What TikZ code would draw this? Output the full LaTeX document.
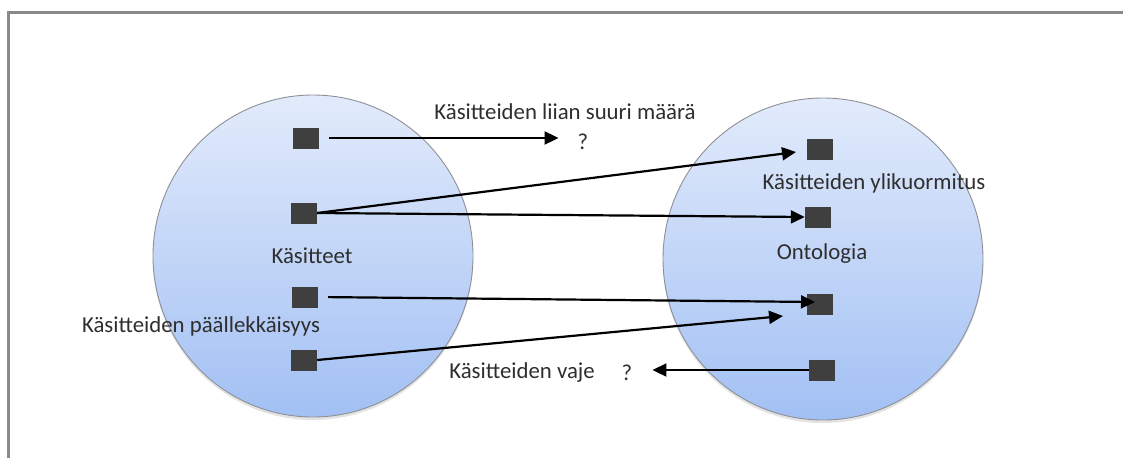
\documentclass[tikz,border=0pt]{standalone}
\usepackage{fontspec}
\setmainfont{Carlito}
\usetikzlibrary{shapes.geometric,arrows.meta,shadows}
\definecolor{txt}{HTML}{2E2E2E}
\definecolor{sqfill}{HTML}{3F3F3F}
\definecolor{setTop}{HTML}{E2EBFB}
\definecolor{setBot}{HTML}{A2C0F4}
\definecolor{setEdge}{HTML}{8E9096}
\definecolor{frameGray}{HTML}{8A8A8A}
\tikzset{
  frame/.style={draw=frameGray, line width=3pt},
  setnode/.style={ellipse, draw=setEdge, line width=0.9pt,
    top color=setTop, bottom color=setBot,
    minimum width=320pt, minimum height=322pt, inner sep=0pt,
    drop shadow={opacity=0.22, shadow xshift=0pt, shadow yshift=-3pt}},
  item/.style={rectangle, fill=sqfill, minimum width=26pt, minimum height=21pt, inner sep=0pt},
  lbl/.style={text=txt, font=\fontsize{22.8}{25}\selectfont, inner sep=0pt},
  arr/.style={draw=black, line width=2.2pt, -{Triangle[length=14pt,width=13pt]}}
}
\begin{document}
\begin{tikzpicture}[x=1pt,y=-1pt]
\useasboundingbox (0,0) rectangle (1123,458);
% outer frame: top and left edges
\draw[frame] (1123,12) -- (8.5,12) -- (8.5,458);

% the two sets
\node[setnode] (L) at (313,256) {};
\node[setnode] (R) at (823,259) {};

% elements of the left set
\node[item] (l1) at (306,138) {};
\node[item] (l2) at (304,213) {};
\node[item] (l3) at (305,297) {};
\node[item] (l4) at (304,360) {};

% elements of the right set
\node[item] (r1) at (820,149) {};
\node[item] (r2) at (818,217) {};
\node[item] (r3) at (820,304) {};
\node[item] (r4) at (822,370) {};

% labels
\node[lbl] (tL) at (312,256) {Käsitteet};
\node[lbl] (tR) at (822,254) {Ontologia};
\node[lbl] (t1) at (565,112) {Käsitteiden liian suuri määrä};
\node[lbl] (q1) at (583,142) {?};
\node[lbl] (t2) at (874,183) {Käsitteiden ylikuormitus};
\node[lbl] (t3) at (201,326) {Käsitteiden päällekkäisyys};
\node[lbl] (t4) at (522,373) {Käsitteiden vaje};
\node[lbl] (q4) at (627,373) {?};

% arrow end points that sit next to, not on, a node
\coordinate (e1) at (796,152);
\coordinate (e3) at (815,302);
\coordinate (e4) at (783,316);

% connectors
\draw[arr, shorten <=10pt, shorten >=19pt] (l1.east) -- (l1.east -| q1.west);
\draw[arr] (l2.east) -- (e1);
\draw[arr] (l2.east) -- (r2.west);
\draw[arr, shorten <=10pt] (l3.east) -- (e3);
\draw[arr] (l4.east) -- (e4);
\draw[arr, shorten >=20pt] (r4.west) -- (r4.west -| q4.east);
\end{tikzpicture}
\end{document}
